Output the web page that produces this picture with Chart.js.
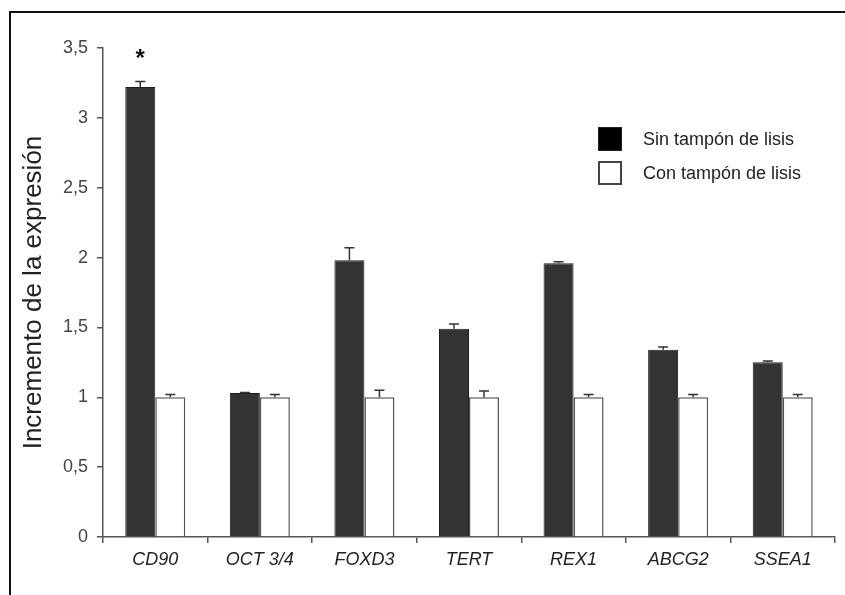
<!DOCTYPE html>
<html>
<head>
<meta charset="utf-8">
<script src="https://cdn.jsdelivr.net/npm/chart.js@4/dist/chart.umd.min.js"></script>
<style>
  body { margin: 0; background: #fff; font-family: "Liberation Sans", Arial, sans-serif; }
  #wrap { position: relative; width: 845px; height: 595px; overflow: hidden; }
  #frame { position: absolute; left: 9px; top: 11px; width: 900px; height: 700px;
           border-top: 2px solid #111; border-left: 2px solid #111; }
  #myChart { position: absolute; left: 0; top: 0; }
  .leg { position: absolute; left: 598px; font-size: 18px; color: #222; }
  .leg span.box { position: absolute; left: 0; width: 24px; height: 24px; box-sizing: border-box; }
  .leg span.txt { position: absolute; left: 45px; white-space: nowrap; line-height: 24px; }
</style>
</head>
<body>
<div id="wrap">
  <div id="frame"></div>
  <canvas id="myChart" width="845" height="595"></canvas>
  <div id="legend"></div>
</div>
<script>
// Données
const genes = ["CD90", "OCT 3/4", "FOXD3", "TERT", "REX1", "ABCG2", "SSEA1"];
const seriesNames = ["Sin tampón de lisis", "Con tampón de lisis"];
const sinTampon = [3.22, 1.03, 1.98, 1.49, 1.96, 1.34, 1.25];
const sinTamponErr = [0.04, 0.005, 0.09, 0.035, 0.01, 0.02, 0.01];
const conTampon = [1, 1, 1, 1, 1, 1, 1];
const conTamponErr = [0.02, 0.02, 0.05, 0.045, 0.02, 0.02, 0.02];
const significant = [true, false, false, false, false, false, false];
const yMin = 0, yMax = 3.5, yStep = 0.5;

const errors = [sinTamponErr, conTamponErr];

// barres d'erreur (seulement vers le haut) + astérisque
const errorBars = {
  id: "errorBars",
  afterDatasetsDraw(chart) {
    const ctx = chart.ctx;
    const y = chart.scales.y;
    ctx.save();
    ctx.strokeStyle = "#333";
    ctx.lineWidth = 1.5;
    chart.data.datasets.forEach((ds, i) => {
      const meta = chart.getDatasetMeta(i);
      meta.data.forEach((bar, j) => {
        const top = y.getPixelForValue(ds.data[j]);
        const tip = y.getPixelForValue(ds.data[j] + errors[i][j]);
        ctx.beginPath();
        ctx.moveTo(bar.x, top);
        ctx.lineTo(bar.x, tip);
        ctx.moveTo(bar.x - 5, tip);
        ctx.lineTo(bar.x + 5, tip);
        ctx.stroke();
        if (i === 0 && significant[j]) {
          ctx.fillStyle = "#111";
          ctx.font = "bold 24px 'Liberation Sans'";
          ctx.textAlign = "center";
          ctx.textBaseline = "middle";
          ctx.fillText("*", bar.x, tip - 22);
        }
      });
    });
    ctx.restore();
  }
};

const data = {
  labels: genes,
  datasets: [
    {
      label: seriesNames[0],
      data: sinTampon,
      backgroundColor: "#333333",
      borderColor: "#1e1e1e",
      borderWidth: 1,
    },
    {
      label: seriesNames[1],
      data: conTampon,
      backgroundColor: "#ffffff",
      borderColor: "#555555",
      borderWidth: 1.5,
    },
  ],
};

const myChart = new Chart(document.getElementById("myChart"), {
  type: "bar",
  data,
  plugins: [errorBars],
  options: {
    responsive: false,
    animation: false,
    layout: { padding: { top: 48, right: 10, left: 0, bottom: 0 } },
    datasets: { bar: { categoryPercentage: 0.574, barPercentage: 1 } },
    plugins: { legend: { display: false }, tooltip: { enabled: false } },
    scales: {
      x: {
        afterFit: (s) => { s.height = 58; },
        grid: { offset: true, drawOnChartArea: false, tickLength: 6, color: "#555", lineWidth: 1.5 },
        border: { color: "#555", width: 1.5 },
        ticks: {
          color: "#222",
          padding: 6,
          font: { family: "Liberation Sans", size: 18, style: "italic" },
        },
      },
      y: {
        min: yMin,
        max: yMax,
        afterFit: (s) => { s.width = 103; },
        grid: { drawOnChartArea: false, tickLength: 6, color: "#555", lineWidth: 1.5 },
        border: { color: "#555", width: 1.5 },
        ticks: {
          stepSize: yStep,
          color: "#444",
          padding: 9,
          font: { family: "Liberation Sans", size: 18 },
          callback: (v) => String(v).replace(".", ","),
        },
        title: {
          display: true,
          text: "Incremento de la expresión",
          color: "#222",
          padding: { top: 18, bottom: 0 },
          font: { family: "Liberation Sans", size: 26 },
        },
      },
    },
  },
});

// légende en HTML
const legend = document.getElementById("legend");
const legTops = [127, 161];
data.datasets.forEach((ds, i) => {
  const row = document.createElement("div");
  row.className = "leg";
  row.style.top = legTops[i] + "px";
  const box = document.createElement("span");
  box.className = "box";
  box.style.background = i === 0 ? "#000" : "#fff";
  box.style.border = i === 0 ? "1px solid #222" : "2px solid #444";
  box.style.top = "0px";
  const txt = document.createElement("span");
  txt.className = "txt";
  txt.style.top = "0px";
  txt.textContent = ds.label;
  row.appendChild(box);
  row.appendChild(txt);
  legend.appendChild(row);
});
</script>
</body>
</html>
